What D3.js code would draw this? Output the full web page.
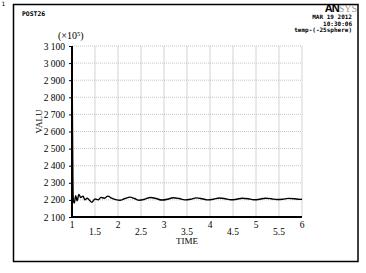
<!DOCTYPE html>
<html>
<head>
<meta charset="utf-8">
<script src="https://cdn.jsdelivr.net/npm/d3@7"></script>
<style>
  body { margin: 0; background: #fff; }
  svg text { fill: #000; }
</style>
</head>
<body>
<script>
// TIME / VALU samples
let timeVals = [1.0, 1.01, 1.02, 1.03, 1.05, 1.08, 1.11, 1.15, 1.19, 1.24, 1.28, 1.33, 1.38, 1.43,
  1.5, 1.57, 1.63, 1.7, 1.78, 1.86, 1.95, 2.04, 2.15, 2.26, 2.36, 2.46, 2.58, 2.7, 2.83,
  2.95, 3.08, 3.2, 3.33, 3.45, 3.58, 3.7, 3.83, 3.95, 4.08, 4.2, 4.33, 4.45, 4.58, 4.7,
  4.83, 4.95, 5.08, 5.2, 5.33, 5.45, 5.58, 5.7, 5.83, 5.95, 6.0];
let valuVals = [3100, 2650, 2300, 2195, 2182, 2225, 2195, 2232, 2214, 2222, 2200, 2210, 2198, 2186,
  2205, 2200, 2215, 2210, 2222, 2210, 2202, 2198, 2208, 2216, 2208, 2198, 2204, 2214, 2208,
  2199, 2204, 2213, 2208, 2200, 2204, 2212, 2207, 2200, 2204, 2211, 2207, 2201, 2204, 2210,
  2207, 2201, 2204, 2210, 2207, 2202, 2204, 2209, 2207, 2203, 2204];
let yTicks = [2100, 2200, 2300, 2400, 2500, 2600, 2700, 2800, 2900, 3000, 3100];
let xTicks = [1, 1.5, 2, 2.5, 3, 3.5, 4, 4.5, 5, 5.5, 6];
let headerRight = ["MAR 19 2012", "10:30:06", "temp-(-25sphere)"];

let W = 366, H = 273;
let margin = {top: 46, right: 64, bottom: 56, left: 72};
let width = W - margin.left - margin.right;
let height = H - margin.top - margin.bottom;

let root = d3.select("body").append("svg")
  .attr("width", W)
  .attr("height", H);

// outer frame
root.append("rect")
  .attr("x", 13.5).attr("y", 4.5)
  .attr("width", 344.5).attr("height", 257)
  .attr("fill", "none").attr("stroke", "#000").attr("stroke-width", 1.5);

root.append("text").attr("x", 1.5).attr("y", 6)
  .style("font", "6px 'DejaVu Sans Mono'").text("1");

root.append("text").attr("x", 22).attr("y", 16)
  .style("font", "bold 6.4px 'DejaVu Sans Mono'").text("POST26");

headerRight.forEach(function(t, i) {
  root.append("text").attr("x", 352).attr("y", 19 + i * 6.6)
    .attr("text-anchor", "end")
    .style("font", "bold 6px 'DejaVu Sans Mono'").text(t);
});

let logo = root.append("text").attr("x", 357).attr("y", 11.5).attr("text-anchor", "end");
logo.append("tspan").style("font", "bold 11px 'Liberation Sans'").style("letter-spacing", "-1px").text("AN");
logo.append("tspan").style("font", "10px 'Liberation Serif'").style("fill", "#999").text("SYS");

let svg = root.append("g")
  .attr("transform", "translate(" + margin.left + "," + margin.top + ")");

let xScale = d3.scaleLinear().domain([1, 6]).range([0, width]);
let yScale = d3.scaleLinear().domain([2100, 3100]).range([height, 0]);

// grid
svg.append("g").selectAll("line")
  .data(xTicks.slice(1))
  .enter().append("line")
  .attr("x1", function(d){ return xScale(d); })
  .attr("x2", function(d){ return xScale(d); })
  .attr("y1", 0).attr("y2", height)
  .attr("stroke", "#c8c8c8").attr("stroke-width", 0.8);

svg.append("g").selectAll("line")
  .data(yTicks.slice(1))
  .enter().append("line")
  .attr("x1", 0).attr("x2", width)
  .attr("y1", function(d){ return yScale(d); })
  .attr("y2", function(d){ return yScale(d); })
  .attr("stroke", "#b8b8b8").attr("stroke-width", 0.8)
  .attr("stroke-dasharray", "1,1");

// y axis
let fmt = function(d){ return d3.format(",")(d).replace(",", " "); };
let yAxis = d3.axisLeft(yScale).tickValues(yTicks).tickSize(3).tickFormat(fmt);
let yg = svg.append("g").call(yAxis);
yg.select(".domain").remove();
yg.selectAll("text").style("font", "9.5px 'Liberation Serif'").attr("dx", "-0.1em");
yg.selectAll("line").attr("stroke", "#000");

svg.append("line").attr("x1", 0).attr("x2", 0).attr("y1", 0).attr("y2", height)
  .attr("stroke", "#000").attr("stroke-width", 2);
svg.append("line").attr("x1", -1).attr("x2", width).attr("y1", height).attr("y2", height)
  .attr("stroke", "#000").attr("stroke-width", 2);

// x labels, staggered
svg.append("g").selectAll("text")
  .data(xTicks)
  .enter().append("text")
  .attr("x", function(d){ return xScale(d); })
  .attr("y", function(d, i){ return i % 2 === 0 ? height + 11 : height + 18; })
  .attr("text-anchor", "middle")
  .style("font", "9.5px 'Liberation Serif'")
  .text(function(d){ return d; });

svg.append("text")
  .attr("x", width / 2).attr("y", height + 26.5)
  .attr("text-anchor", "middle")
  .style("font", "9px 'Liberation Serif'")
  .text("TIME");

svg.append("text")
  .attr("transform", "translate(-30," + (height / 2 - 10) + ") rotate(-90)")
  .attr("text-anchor", "middle")
  .style("font", "9px 'Liberation Serif'")
  .text("VALU");

let mult = svg.append("text").attr("x", -14).attr("y", -7)
  .style("font", "10px 'Liberation Serif'");
mult.append("tspan").text("(\u00d710");
mult.append("tspan").attr("dy", -3).style("font-size", "6.5px").text("5");
mult.append("tspan").attr("dy", 3).text(")");

// curve
let data = timeVals.map(function(t, i){ return {t: t, v: valuVals[i]}; });
let line = d3.line()
  .x(function(d){ return xScale(d.t); })
  .y(function(d){ return yScale(d.v); })
  .curve(d3.curveMonotoneX);

svg.append("path")
  .datum(data)
  .attr("d", line)
  .attr("fill", "none")
  .attr("stroke", "#000")
  .attr("stroke-width", 1.4);
</script>
</body>
</html>
